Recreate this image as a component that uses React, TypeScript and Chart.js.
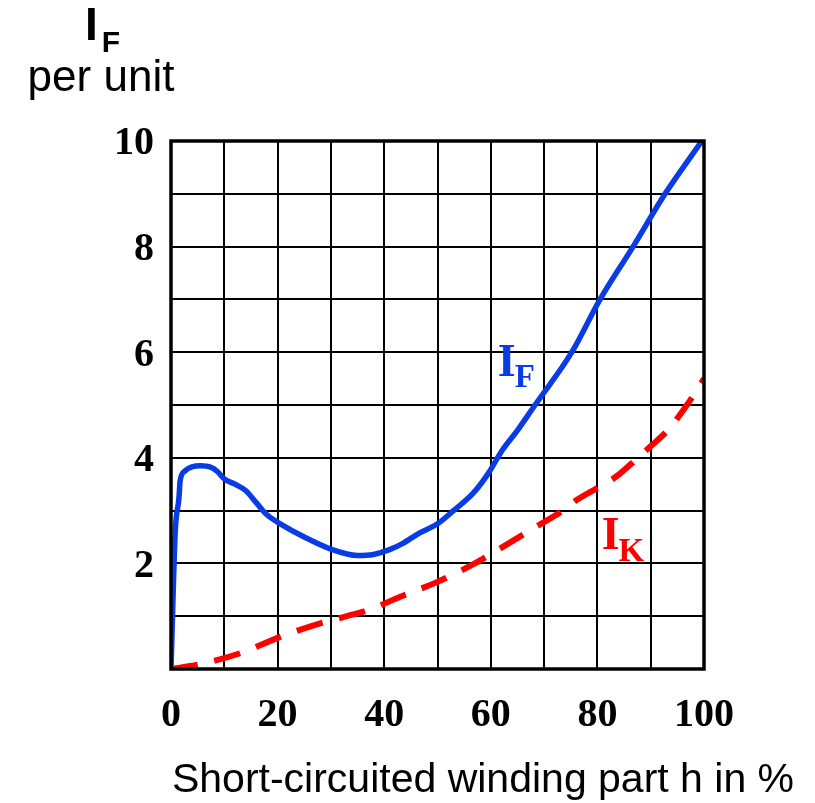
import { useEffect, useRef } from "react";
import { Chart, registerables } from "chart.js";

Chart.register(...registerables);

// Fault current I_F versus short-circuited winding part h (%)
const hIF = [0, 0.8, 1.5, 1.7, 2.6, 4, 5.5, 7.5, 8.7, 10, 12, 14, 16, 18, 20.5, 25, 30, 35, 38, 41, 43.5, 46.5, 50, 53, 56.7, 59.5, 62, 65, 68.3, 75.2, 80.5, 86.7, 92.7, 99.6];
const valIF = [0, 2.6, 3.25, 3.55, 3.75, 3.83, 3.85, 3.82, 3.74, 3.6, 3.5, 3.38, 3.15, 2.92, 2.75, 2.5, 2.27, 2.15, 2.17, 2.26, 2.38, 2.57, 2.75, 3.0, 3.33, 3.7, 4.12, 4.52, 5.0, 6.0, 7.0, 8.0, 9.0, 10.0];

// Short-circuit current I_K
const hIK = [0, 5, 13, 20.8, 29.2, 33, 37.7, 43, 50, 57, 61.4, 68.6, 73.5, 76.1, 83.6, 87.6, 90, 93, 96.8, 100];
const valIK = [0, 0.08, 0.3, 0.62, 0.9, 1.0, 1.14, 1.37, 1.65, 2.0, 2.26, 2.7, 3.0, 3.2, 3.65, 4.0, 4.22, 4.5, 5.0, 5.5];

const xLabels = [0, 20, 40, 60, 80, 100];
const yLabels = [2, 4, 6, 8, 10];

const BLUE = "#0a3ce6";
const RED = "#ff0000";

const annotations = {
  id: "annotations",
  afterDraw(chart: any) {
    const { ctx, chartArea: a, scales } = chart;
    ctx.save();
    // frame around the plot
    ctx.strokeStyle = "#000";
    ctx.lineWidth = 3.5;
    ctx.strokeRect(a.left, a.top, a.right - a.left, a.bottom - a.top);

    const sub = (x: number, y: number, main: string, s: string, color: string, fam: string, big: number, small: number, dx: number, dy: number) => {
      ctx.fillStyle = color;
      ctx.textBaseline = "alphabetic";
      ctx.textAlign = "left";
      ctx.font = `bold ${big}px ${fam}`;
      ctx.fillText(main, x, y);
      const w = ctx.measureText(main).width;
      ctx.font = `bold ${small}px ${fam}`;
      ctx.fillText(s, x + w + dx, y + dy);
    };

    // curve labels
    const xs = scales.x, ys = scales.y;
    sub(xs.getPixelForValue(61.3), ys.getPixelForValue(5.55), "I", "F", BLUE, "'Liberation Serif'", 46, 33, -1, 11);
    sub(xs.getPixelForValue(80.8), ys.getPixelForValue(2.27), "I", "K", RED, "'Liberation Serif'", 46, 33, -1, 12);

    // y-axis title
    sub(85, 40, "I", "F", "#000", "'Liberation Sans'", 46, 30, 4, 12);
    ctx.font = "44px 'Liberation Sans'";
    ctx.textAlign = "center";
    ctx.fillText("per unit", 101, 91);

    // x-axis title
    ctx.font = "41px 'Liberation Sans'";
    ctx.fillText("Short-circuited winding part h in %", 483, 792);
    ctx.restore();
  },
};

export default function App() {
  const ref = useRef<HTMLCanvasElement>(null);

  useEffect(() => {
    const chart = new Chart(ref.current!, {
      type: "line",
      data: {
        datasets: [
          {
            label: "IF",
            data: hIF.map((x, i) => ({ x, y: valIF[i] })),
            borderColor: BLUE,
            borderWidth: 5.5,
            pointRadius: 0,
            cubicInterpolationMode: "monotone",
            fill: false,
          },
          {
            label: "IK",
            data: hIK.map((x, i) => ({ x, y: valIK[i] })),
            borderColor: RED,
            borderWidth: 6,
            borderDash: [27, 17],
            pointRadius: 0,
            cubicInterpolationMode: "monotone",
            fill: false,
          },
        ],
      },
      options: {
        responsive: false,
        maintainAspectRatio: false,
        devicePixelRatio: 1,
        animation: false,
        layout: { padding: { top: 141, right: 111, left: 0, bottom: 0 } },
        plugins: { legend: { display: false }, tooltip: { enabled: false } },
        scales: {
          x: {
            type: "linear",
            min: 0,
            max: 100,
            afterFit: (s: any) => { s.height = 134; },
            border: { display: false },
            grid: { color: "#000", lineWidth: 2, drawTicks: false },
            ticks: {
              stepSize: 10,
              padding: 23,
              color: "#000",
              font: { family: "'Liberation Serif'", weight: "bold", size: 40 },
              maxRotation: 0,
              autoSkip: false,
              callback: (v: any) => (xLabels.includes(Number(v)) ? String(v) : ""),
            },
          },
          y: {
            type: "linear",
            min: 0,
            max: 10,
            afterFit: (s: any) => { s.width = 171; },
            border: { display: false },
            grid: { color: "#000", lineWidth: 2, drawTicks: false },
            ticks: {
              stepSize: 1,
              padding: 17,
              labelOffset: 3,
              color: "#000",
              autoSkip: false,
              font: { family: "'Liberation Serif'", weight: "bold", size: 40 },
              callback: (v: any) => (yLabels.includes(Number(v)) ? String(v) : ""),
            },
          },
        },
      },
      plugins: [annotations],
    });
    return () => chart.destroy();
  }, []);

  return (
    <div style={{ position: "fixed", left: 0, top: 0, width: 815, height: 803, background: "#fff" }}>
      <canvas ref={ref} width={815} height={803} />
    </div>
  );
}
